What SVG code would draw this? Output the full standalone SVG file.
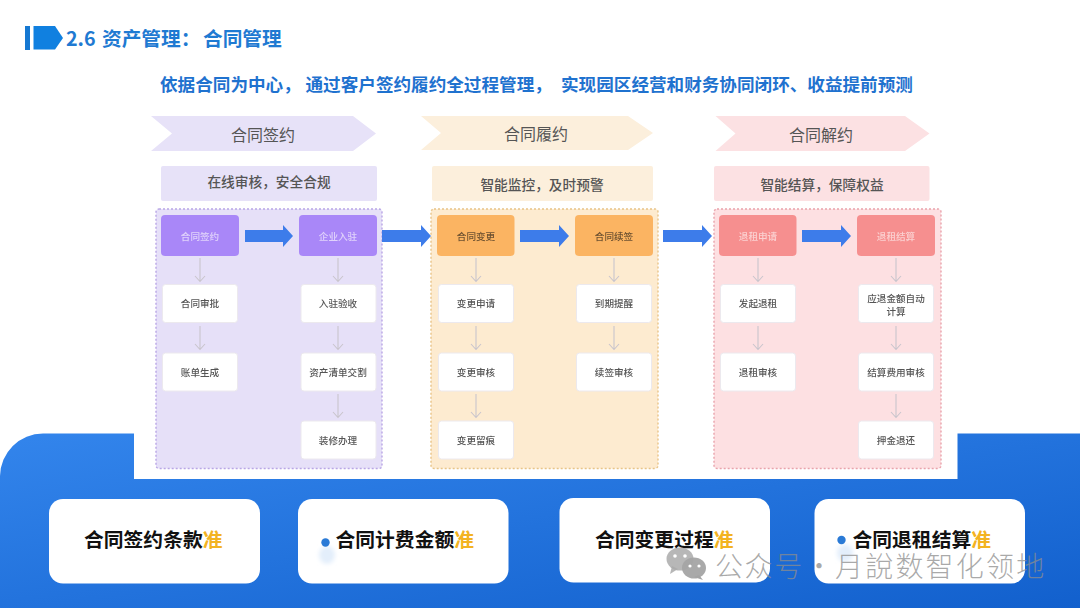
<svg xmlns="http://www.w3.org/2000/svg" width="1080" height="608" viewBox="0 0 1080 608">
<style>
text{font-family:"Noto Sans CJK SC","Noto Sans",sans-serif}
.title{font-size:19.7px;font-weight:700;fill:#1f7ad2}
.lead{font-size:17.6px;font-weight:700;fill:#1f72cf}
.chev{font-size:16px;font-weight:400;fill:#555;text-anchor:middle}
.sub{font-size:13.7px;font-weight:500;fill:#555;text-anchor:middle}
.n{font-size:9.6px;font-weight:500;fill:#555;text-anchor:middle;filter:url(#soft)}
.hl{fill:#e0d2fb}.ho{fill:#6d5130}.hr{fill:#fbd0d0}
.w{fill:#fff;stroke:#ece9ee;stroke-width:1}
.big{font-size:19.8px;font-weight:700;fill:#111}
.big tspan{fill:#f3b321}
.card{fill:#fff}
.flow{fill:#3d7cea}
.dash{stroke-width:1.4;stroke-dasharray:2 2}
.wm{font-size:28px;font-weight:300;fill:#8d8d8d;fill-opacity:.75;letter-spacing:1.6px}
</style>
<defs>
<linearGradient id="bg" x1="0" y1="0" x2="1" y2="1"><stop offset="0" stop-color="#3385ec"/><stop offset="1" stop-color="#1260cd"/></linearGradient>
<filter id="soft" x="-10%" y="-30%" width="120%" height="160%"><feGaussianBlur stdDeviation="0.35"/></filter>
<filter id="blob" x="-50%" y="-50%" width="200%" height="200%"><feGaussianBlur stdDeviation="2"/></filter>
</defs>
<rect width="1080" height="608" fill="#fff"/>
<path id="band" d="M0 608V476A43 43 0 0 1 43 433.500H134V479H957.500V433.500H1080V608Z" fill="url(#bg)"/>
<g id="heading">
<rect x="25" y="26" width="5" height="24" fill="#1578d2"/>
<polygon points="33.500,26 55,26 63,38 55,49.500 33.500,49.500" fill="#1080e0"/>
<text class="title" y="46"><tspan x="66">2.6</tspan><tspan x="102">资产管理：</tspan><tspan x="203">合同管理</tspan></text>
</g>
<text class="lead" y="90.500"><tspan x="160">依据合同为中心，</tspan><tspan x="305.500">通过客户签约履约全过程管理，</tspan><tspan x="561">实现园区经营和财务协同闭环、收益提前预测</tspan></text>

<g id="stage-sign">
<polygon points="151,116 353,116 376,133.500 353,151 151,151 172,133.500" fill="#e7e2f8"/>
<text class="chev" x="263" y="140.500">合同签约</text>
<rect x="161" y="166" width="216" height="35" rx="2" fill="#e7e2f8"/>
<text class="sub" x="269" y="187">在线审核，安全合规</text>
<rect class="dash" x="156" y="209" width="226" height="259.500" rx="3" fill="#e6e0f8" stroke="#b9a6e6"/>
</g>
<g id="stage-perform">
<polygon points="421,116 628,116 653,133 628,150 421,150 441,133" fill="#fcefdc"/>
<text class="chev" x="536" y="140">合同履约</text>
<rect x="432" y="166" width="221" height="35" rx="2" fill="#fcefdc"/>
<text class="sub" x="542" y="190">智能监控，及时预警</text>
<rect class="dash" x="431" y="209" width="227" height="259.500" rx="3" fill="#fdebd0" stroke="#e8c488"/>
</g>
<g id="stage-end">
<polygon points="715.500,116 905,116 929.500,133.500 905,151 715.500,151 735.500,133.500" fill="#fce1e3"/>
<text class="chev" x="821" y="140.500">合同解约</text>
<rect x="714" y="166" width="215.500" height="35" rx="2" fill="#fce1e3"/>
<text class="sub" x="822" y="190">智能结算，保障权益</text>
<rect class="dash" x="714" y="209" width="227" height="259.500" rx="3" fill="#fde0e2" stroke="#e9a3ac"/>
</g>

<g id="connectors">
<polygon class="flow" points="245,230 283,230 283,225 293,236 283,247 283,242 245,242"/>
<polygon class="flow" points="382,230 421,230 421,225 431,236 421,247 421,242 382,242"/>
<polygon class="flow" points="520,230 559,230 559,225 569,236 559,247 559,242 520,242"/>
<polygon class="flow" points="663,230 702,230 702,225 712,236 702,247 702,242 663,242"/>
<polygon class="flow" points="802,230 841,230 841,225 851,236 841,247 841,242 802,242"/>
<g fill="none" stroke="#c9c5cd" stroke-width="1.100">
<path d="M200 258V281M195 276L200 281.500L205 276"/>
<path d="M200 326V349M195 344L200 349.500L205 344"/>
<path d="M338 258V281M333 276L338 281.500L343 276"/>
<path d="M338 326V349M333 344L338 349.500L343 344"/>
<path d="M338 394V417M333 412L338 417.500L343 412"/>
<path d="M476 258V281M471 276L476 281.500L481 276"/>
<path d="M476 326V349M471 344L476 349.500L481 344"/>
<path d="M476 394V417M471 412L476 417.500L481 412"/>
<path d="M614 258V281M609 276L614 281.500L619 276"/>
<path d="M614 326V349M609 344L614 349.500L619 344"/>
<path d="M758 258V281M753 276L758 281.500L763 276"/>
<path d="M758 326V349M753 344L758 349.500L763 344"/>
<path d="M896 258V281M891 276L896 281.500L901 276"/>
<path d="M896 326V349M891 344L896 349.500L901 344"/>
<path d="M896 394V417M891 412L896 417.500L901 412"/>
</g>
</g>

<g id="n1"><rect x="161" y="215" width="78" height="41" rx="4" fill="#a987f8"/><text class="n hl" x="200" y="240">合同签约</text></g>
<g id="n2"><rect class="w" x="162.500" y="284.500" width="75" height="38" rx="3"/><text class="n" x="200" y="307">合同审批</text></g>
<g id="n3"><rect class="w" x="162.500" y="353" width="75" height="38" rx="3"/><text class="n" x="200" y="376">账单生成</text></g>
<g id="n4"><rect x="299" y="215" width="78" height="41" rx="4" fill="#a987f8"/><text class="n hl" x="338" y="240">企业入驻</text></g>
<g id="n5"><rect class="w" x="301" y="284.500" width="75" height="38" rx="3"/><text class="n" x="338" y="307">入驻验收</text></g>
<g id="n6"><rect class="w" x="301" y="353" width="75" height="38" rx="3"/><text class="n" x="338" y="376">资产清单交割</text></g>
<g id="n7"><rect class="w" x="301" y="421" width="75" height="38" rx="3"/><text class="n" x="338" y="444">装修办理</text></g>

<g id="n8"><rect x="437" y="215" width="77.500" height="41" rx="4" fill="#fbb462"/><text class="n ho" x="476" y="240">合同变更</text></g>
<g id="n9"><rect class="w" x="438.500" y="284.500" width="75" height="38" rx="3"/><text class="n" x="476" y="307">变更申请</text></g>
<g id="n10"><rect class="w" x="438.500" y="353" width="75" height="38" rx="3"/><text class="n" x="476" y="376">变更审核</text></g>
<g id="n11"><rect class="w" x="438.500" y="421" width="75" height="38" rx="3"/><text class="n" x="476" y="444">变更留痕</text></g>
<g id="n12"><rect x="575" y="215" width="78" height="41" rx="4" fill="#fbb462"/><text class="n ho" x="614" y="240">合同续签</text></g>
<g id="n13"><rect class="w" x="576.500" y="284.500" width="75" height="38" rx="3"/><text class="n" x="614" y="307">到期提醒</text></g>
<g id="n14"><rect class="w" x="576.500" y="353" width="75" height="38" rx="3"/><text class="n" x="614" y="376">续签审核</text></g>

<g id="n15"><rect x="719" y="215" width="77.500" height="41" rx="4" fill="#f68f8f"/><text class="n hr" x="758" y="240">退租申请</text></g>
<g id="n16"><rect class="w" x="720.500" y="284.500" width="75" height="38" rx="3"/><text class="n" x="758" y="307">发起退租</text></g>
<g id="n17"><rect class="w" x="720.500" y="353" width="75" height="38" rx="3"/><text class="n" x="758" y="376">退租审核</text></g>
<g id="n18"><rect x="857" y="215" width="78" height="41" rx="4" fill="#f68f8f"/><text class="n hr" x="896" y="240">退租结算</text></g>
<g id="n19"><rect class="w" x="858.500" y="284.500" width="75" height="38" rx="3"/><text class="n" x="896" y="301.500">应退金额自动</text><text class="n" x="896" y="315">计算</text></g>
<g id="n20"><rect class="w" x="858.500" y="353" width="75" height="38" rx="3"/><text class="n" x="896" y="376">结算费用审核</text></g>
<g id="n21"><rect class="w" x="858.500" y="421" width="75" height="38" rx="3"/><text class="n" x="896" y="444">押金退还</text></g>

<g id="card1"><rect class="card" x="49" y="499" width="211" height="84.500" rx="14"/><text class="big" x="84" y="547">合同签约条款<tspan>准</tspan></text></g>
<g id="card2"><rect class="card" x="298" y="499" width="210.500" height="84.500" rx="14"/><ellipse cx="327" cy="555" rx="8" ry="9" fill="#e3eefb" filter="url(#blob)"/><circle cx="325.500" cy="542.500" r="4.200" fill="#2a7ad6"/><text class="big" x="335.500" y="547">合同计费金额<tspan>准</tspan></text></g>
<g id="card3"><rect class="card" x="559.500" y="498" width="210.500" height="84.500" rx="14"/><text class="big" x="595" y="547">合同变更过程<tspan>准</tspan></text></g>
<g id="card4"><rect class="card" x="814.500" y="499" width="210.500" height="84.500" rx="14"/><ellipse cx="845" cy="553" rx="8" ry="9" fill="#e3eefb" filter="url(#blob)"/><circle cx="841.500" cy="540" r="4.200" fill="#2a7ad6"/><text class="big" x="852.500" y="547">合同退租结算<tspan>准</tspan></text></g>

<g id="watermark">
<ellipse cx="680" cy="559" rx="13.500" ry="11.500" fill="#aaa" fill-opacity=".85"/>
<polygon points="672,566 670,574 678,569" fill="#aaa" fill-opacity=".85"/>
<circle cx="675" cy="556" r="1.800" fill="#fff"/><circle cx="685" cy="556" r="1.800" fill="#fff"/>
<ellipse cx="694" cy="568" rx="12" ry="10.500" fill="#a4a4a4" fill-opacity=".95"/>
<polygon points="699,575 703,580 694,577" fill="#a4a4a4"/>
<circle cx="690" cy="566" r="1.600" fill="#fff"/><circle cx="699" cy="566" r="1.600" fill="#fff"/>
<text class="wm" y="577"><tspan x="715">公众号</tspan><tspan x="805">·</tspan><tspan x="835" letter-spacing="2.200">月說数智化领地</tspan></text>
</g>
</svg>
